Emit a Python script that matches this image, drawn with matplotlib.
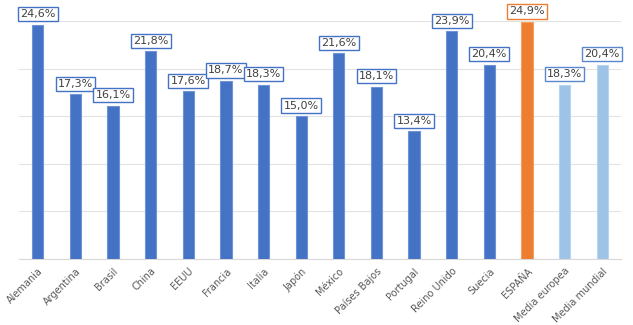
import matplotlib
matplotlib.use('Agg')
import matplotlib.pyplot as plt
import numpy as np

paises = ['Alemania', 'Argentina', 'Brasil', 'China', 'EEUU', 'Francia', 'Italia',
          'Japón', 'México', 'Países Bajos', 'Portugal', 'Reino Unido', 'Suecia',
          'ESPAÑA', 'Media europea', 'Media mundial']
valores = [24.6, 17.3, 16.1, 21.8, 17.6, 18.7, 18.3, 15.0, 21.6, 18.1, 13.4,
           23.9, 20.4, 24.9, 18.3, 20.4]
tipo = ['pais'] * 13 + ['espana', 'media', 'media']

colores = {'pais': '#4472C4', 'espana': '#ED7D31', 'media': '#9DC3E6'}
bordes = {'pais': '#6E93D6', 'espana': '#F4A15F', 'media': '#B8D5EF'}
marcos = {'pais': '#4472C4', 'espana': '#ED7D31', 'media': '#5B87CC'}

fig = plt.figure(figsize=(6.33, 3.25), dpi=100)
ax = fig.add_axes([19 / 633, 1 - 259 / 325, 602 / 633, 238 / 325])

x = np.arange(len(paises))
barras = ax.bar(x, valores, 0.3,
                color=[colores[t] for t in tipo],
                edgecolor=[bordes[t] for t in tipo], linewidth=0.8, zorder=3)

ax.set_xlim(-0.5, len(paises) - 0.5)
ax.set_ylim(0, 25)
ax.set_yticks(np.arange(0, 26, 5))
ax.yaxis.grid(True, color='#E3E3E3', linewidth=0.8, zorder=0)
ax.tick_params(axis='y', left=False, labelleft=False)
ax.tick_params(axis='x', length=0, pad=5)
for s in ['top', 'right', 'left']:
    ax.spines[s].set_visible(False)
ax.spines['bottom'].set_color('#D9D9D9')

ax.set_xticks(x)
ax.set_xticklabels(paises, rotation=45, ha='right', rotation_mode='anchor',
                   fontsize=7, color='#595959', family='Liberation Sans Narrow')

# etiqueta con el valor encima de cada barra
for rect, v, t in zip(barras, valores, tipo):
    ax.annotate('{:.1f}%'.format(v).replace('.', ','),
                xy=(rect.get_x() + rect.get_width() / 2, v),
                xytext=(0, 4), textcoords='offset points',
                ha='center', va='bottom', fontsize=8, color='#404040',
                bbox=dict(boxstyle='square,pad=0.2', fc='white',
                          ec=marcos[t], lw=1), zorder=5)

fig.savefig('out.png', dpi=100)
